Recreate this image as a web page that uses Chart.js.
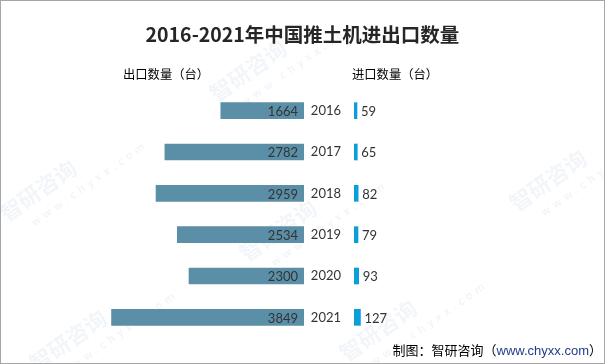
<!DOCTYPE html>
<html>
<head>
<meta charset="utf-8">
<script src="https://cdn.jsdelivr.net/npm/chart.js@4"></script>
<style>
  html, body { margin: 0; padding: 0; background: #fff; }
  #wrap { position: relative; width: 605px; height: 364px; overflow: hidden;
          box-sizing: border-box; border: 1px solid #a6a6a6; font-family: "Noto Sans CJK SC", sans-serif; }
  #title { position: absolute; left: 0; width: 603px; top: 21px; text-align: center;
           font-size: 19.5px; font-weight: bold; color: #262626; line-height: 24px; }
  .sub { position: absolute; top: 65px; font-size: 12.3px; color: #000; line-height: 16px; }
  #foot { position: absolute; right: 2px; top: 341px; font-size: 13px; color: #000; line-height: 16px; }
  #foot span { color: #1f3d8a; font-family: "Liberation Sans", sans-serif; }
  .wm { position: absolute; color: rgba(60, 110, 190, 0.08); font-size: 22px; font-weight: bold;
        transform: rotate(-35deg); white-space: nowrap; pointer-events: none; }
  .wm small { display: block; font-size: 11px; letter-spacing: 4px; margin-left: 20px; }
  #left { position: absolute; left: 0; top: 0; width: 303px; height: 362px; }
  #right { position: absolute; left: 303px; top: 0; width: 300px; height: 362px; }
</style>
</head>
<body>
<div id="wrap">
  <div class="wm" style="left:200px;top:30px;">智研咨询<small>www.chyxx.com</small></div>
  <div class="wm" style="left:-10px;top:150px;">智研咨询<small>www.chyxx.com</small></div>
  <div class="wm" style="left:230px;top:190px;">智研咨询<small>www.chyxx.com</small></div>
  <div class="wm" style="left:500px;top:140px;">智研咨询<small>www.chyxx.com</small></div>
  <div class="wm" style="left:20px;top:300px;">智研咨询<small>www.chyxx.com</small></div>
  <div class="wm" style="left:330px;top:290px;">智研咨询<small>www.chyxx.com</small></div>
  <div id="left"><canvas id="leftChart"></canvas></div>
  <div id="right"><canvas id="rightChart"></canvas></div>
  <div id="title">2016-2021年中国推土机进出口数量</div>
  <div class="sub" style="left:122px;">出口数量（台）</div>
  <div class="sub" style="left:351px;">进口数量（台）</div>
  <div id="foot">制图：智研咨询（<span>www.chyxx.com</span>）</div>
</div>
<script>
const years = ["2016", "2017", "2018", "2019", "2020", "2021"];
const exportQty = [1664, 2782, 2959, 2534, 2300, 3849];
const importQty = [59, 65, 82, 79, 93, 127];

const numFont = { family: "Lato, 'Noto Sans', sans-serif", size: 13 };

// value labels drawn next to / inside the bars
const valueLabels = {
  id: "valueLabels",
  afterDatasetsDraw(chart, args, opts) {
    const ctx = chart.ctx;
    const meta = chart.getDatasetMeta(0);
    const data = chart.data.datasets[0].data;
    ctx.save();
    ctx.font = numFont.size + "px " + numFont.family;
    ctx.fillStyle = "#333";
    ctx.textBaseline = "middle";
    meta.data.forEach((bar, i) => {
      if (opts.inside) {
        ctx.textAlign = "right";
        ctx.fillText(data[i], bar.base - 6, bar.y + 1);
      } else {
        ctx.textAlign = "left";
        ctx.fillText(data[i], bar.x + 4, bar.y + 1);
      }
    });
    ctx.restore();
  }
};

function baseOptions() {
  return {
    responsive: true,
    maintainAspectRatio: false,
    animation: false,
    indexAxis: "y",
    plugins: { legend: { display: false }, tooltip: { enabled: false } },
    scales: {
      x: { display: false, min: 0, max: 4000 },
      y: { display: false, grid: { display: false } }
    }
  };
}

const leftOpts = baseOptions();
leftOpts.scales.x.reverse = true;
leftOpts.layout = { padding: { left: 103, right: 0, top: 89, bottom: 25 } };
leftOpts.plugins.valueLabels = { inside: true };

new Chart(document.getElementById("leftChart"), {
  type: "bar",
  data: {
    labels: years,
    datasets: [{
      data: exportQty,
      backgroundColor: "#5b8fa7",
      borderWidth: 0,
      barThickness: 16
    }]
  },
  options: leftOpts,
  plugins: [valueLabels]
});

const rightOpts = baseOptions();
rightOpts.layout = { padding: { left: 0, right: 47, top: 89, bottom: 25 } };
rightOpts.plugins.valueLabels = { inside: false };
rightOpts.scales.y = {
  display: true,
  grid: { display: false, drawTicks: false },
  border: { display: false },
  ticks: { color: "#333", font: numFont, padding: 13 },
  afterFit(scale) { scale.width = 50; }
};

new Chart(document.getElementById("rightChart"), {
  type: "bar",
  data: {
    labels: years,
    datasets: [{
      data: importQty,
      backgroundColor: "#0a9fd9",
      borderWidth: 0,
      barThickness: 16
    }]
  },
  options: rightOpts,
  plugins: [valueLabels]
});
</script>
</body>
</html>
